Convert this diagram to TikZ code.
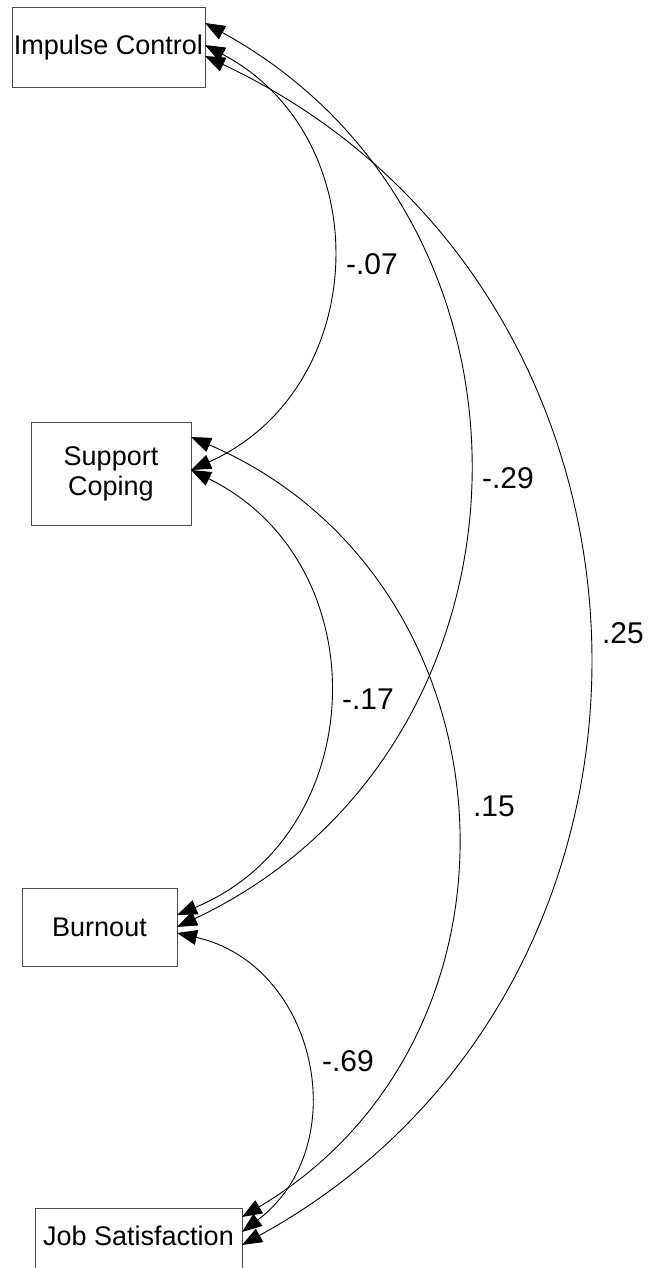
\documentclass[tikz,border=0pt]{standalone}
\usepackage{fontspec}
\setmainfont{Liberation Sans}
\usetikzlibrary{arrows.meta}
\begin{document}
\begin{tikzpicture}[x=0.5pt,y=-0.5pt,
  var/.style={draw=black!70, line width=0.5pt, rectangle, inner sep=0pt, outer sep=0pt, align=center, font=\fontsize{13.5}{15}\selectfont},
  cov/.style={line width=0.45pt, {Triangle[length=10pt,width=7.5pt]}-{Triangle[length=10pt,width=7.5pt]}},
  lab/.style={inner sep=0pt, font=\fontsize{15}{15}\selectfont}]
\useasboundingbox (0,0) rectangle (649,1268);
\clip (0,0) rectangle (649,1268);
\node[var, minimum width=96.5pt, minimum height=40pt] (ic) at (108.5,48) {Impulse Control};
\node[var, minimum width=80pt, minimum height=51.5pt] (sc) at (111,473.5) {Support\\Coping};
\node[var, minimum width=77.5pt, minimum height=39pt] (bo) at (99.5,927) {Burnout};
\node[var, minimum width=103.5pt, minimum height=32pt, text depth=4pt] (js) at (138.5,1240) {Job Satisfaction};
\coordinate (ic1) at ([yshift=12.5pt]ic.east);
\coordinate (ic2) at ([yshift=1.5pt]ic.east);
\coordinate (ic3) at ([yshift=-4pt]ic.east);
\coordinate (sc1) at ([yshift=18.25pt]sc.east);
\coordinate (sc2) at ([yshift=1.75pt]sc.east);
\coordinate (bo1) at ([yshift=6pt]bo.east);
\coordinate (bo2) at (bo.east);
\coordinate (bo3) at ([yshift=-3pt]bo.east);
\coordinate (js1) at ([yshift=11.5pt]js.east);
\coordinate (js2) at ([yshift=4pt]js.east);
\coordinate (js3) at ([yshift=-2.5pt]js.east);
\draw[cov] (ic2) to[bend left=64, looseness=1.19] (sc2);
\draw[cov] (ic1) to[bend left=63, looseness=1.17] (bo2);
\draw[cov] (ic3) to[bend left=63, looseness=1.17] (js3);
\draw[cov] (sc2) to[bend left=65.6, looseness=1.21] (bo1);
\draw[cov] (sc1) to[bend left=63, looseness=1.17] (js1);
\draw[cov] (bo3) to[bend left=65, looseness=1.2] (js2);
\node[lab] (l1) at (372,264) {-.07};
\node[lab] (l2) at (508,478) {-.29};
\node[lab] (l3) at (623,633) {.25};
\node[lab] (l4) at (368,699) {-.17};
\node[lab] (l5) at (494,806) {.15};
\node[lab] (l6) at (348,1061) {-.69};
\end{tikzpicture}
\end{document}
